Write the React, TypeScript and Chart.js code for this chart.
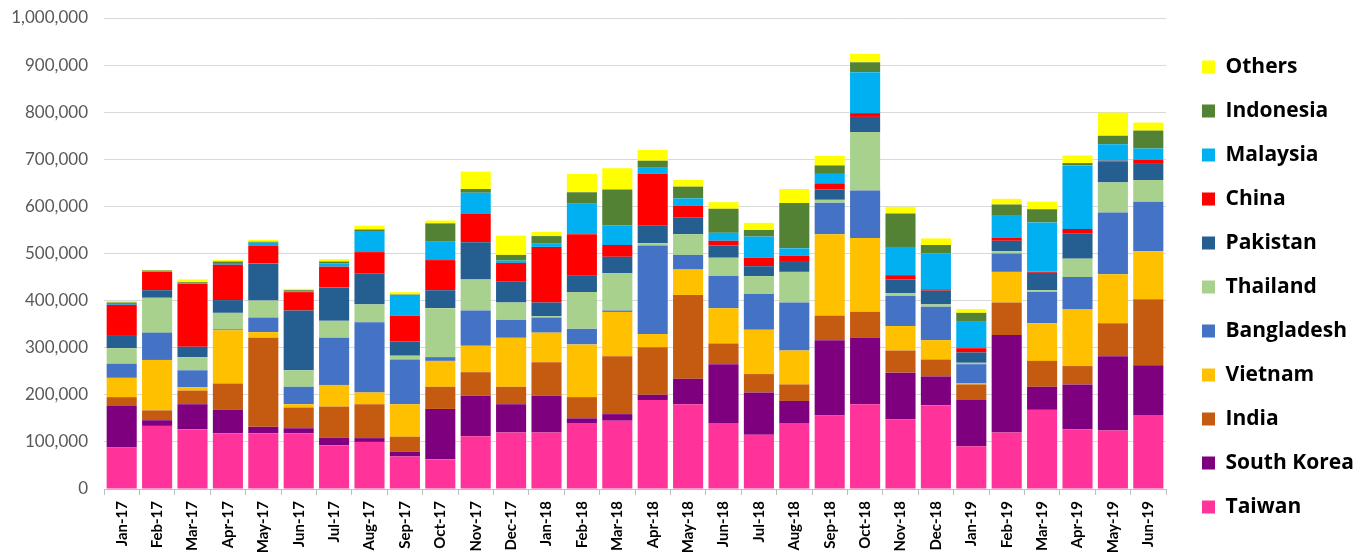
import React, { useEffect, useRef } from "react";
import { Chart, registerables } from "chart.js";

Chart.register(...registerables);

const months = [
  "Jan-17", "Feb-17", "Mar-17", "Apr-17", "May-17", "Jun-17", "Jul-17", "Aug-17", "Sep-17", "Oct-17",
  "Nov-17", "Dec-17", "Jan-18", "Feb-18", "Mar-18", "Apr-18", "May-18", "Jun-18", "Jul-18", "Aug-18",
  "Sep-18", "Oct-18", "Nov-18", "Dec-18", "Jan-19", "Feb-19", "Mar-19", "Apr-19", "May-19", "Jun-19",
];

const taiwan = [88000, 134000, 127000, 118000, 118000, 118000, 93000, 100000, 69000, 63000, 112000, 120000, 120000, 140000, 145000, 189000, 180000, 140000, 115000, 140000, 156000, 180000, 148000, 178000, 91000, 120000, 168000, 127000, 124000, 157000];
const southKorea = [88000, 12000, 53000, 50000, 14000, 11000, 16000, 8000, 10000, 107000, 86000, 60000, 78000, 10000, 14000, 11000, 54000, 125000, 90000, 47000, 160000, 141000, 99000, 61000, 98000, 207000, 49000, 95000, 158000, 106000];
const india = [19000, 21000, 29000, 56000, 189000, 44000, 66000, 72000, 32000, 47000, 50000, 37000, 71000, 45000, 123000, 101000, 178000, 44000, 39000, 35000, 52000, 55000, 47000, 36000, 33000, 69000, 55000, 39000, 70000, 140000];
const vietnam = [41000, 107000, 7000, 113000, 12000, 7000, 46000, 25000, 69000, 55000, 56000, 104000, 63000, 112000, 94000, 28000, 54000, 75000, 94000, 72000, 173000, 157000, 52000, 41000, 2000, 65000, 80000, 120000, 104000, 102000];
const bangladesh = [30000, 58000, 36000, 2000, 31000, 37000, 100000, 149000, 95000, 8000, 75000, 38000, 32000, 33000, 3000, 188000, 31000, 69000, 76000, 102000, 67000, 101000, 64000, 71000, 41000, 39000, 67000, 69000, 131000, 105000];
const thailand = [33000, 74000, 28000, 35000, 36000, 35000, 36000, 38000, 8000, 104000, 66000, 37000, 3000, 78000, 79000, 5000, 44000, 38000, 38000, 65000, 6000, 124000, 6000, 5000, 3000, 5000, 3000, 39000, 64000, 46000];
const pakistan = [26000, 16000, 22000, 27000, 79000, 127000, 71000, 66000, 30000, 38000, 79000, 44000, 29000, 35000, 35000, 37000, 35000, 26000, 21000, 23000, 22000, 32000, 29000, 29000, 22000, 22000, 37000, 54000, 44000, 36000];
const china = [66000, 39000, 133000, 75000, 37000, 39000, 44000, 45000, 55000, 64000, 61000, 40000, 118000, 88000, 25000, 111000, 25000, 10000, 18000, 11000, 13000, 8000, 9000, 3000, 9000, 7000, 2000, 9000, 2000, 7000];
const malaysia = [2000, 1000, 1000, 2000, 7000, 2000, 7000, 43000, 44000, 39000, 44000, 5000, 8000, 66000, 42000, 12000, 16000, 17000, 45000, 16000, 20000, 87000, 60000, 76000, 56000, 46000, 105000, 135000, 35000, 24000];
const indonesia = [3000, 2000, 3000, 5000, 2000, 2000, 4000, 5000, 1000, 39000, 8000, 12000, 15000, 23000, 76000, 15000, 25000, 51000, 14000, 96000, 18000, 21000, 71000, 18000, 19000, 24000, 28000, 5000, 18000, 38000];
const others = [3000, 1000, 6000, 3000, 4000, 3000, 5000, 8000, 5000, 6000, 37000, 41000, 9000, 39000, 45000, 23000, 14000, 14000, 15000, 30000, 20000, 18000, 14000, 14000, 8000, 12000, 16000, 16000, 49000, 17000];

const yTicks = [0, 100000, 200000, 300000, 400000, 500000, 600000, 700000, 800000, 900000, 1000000];

// Stacking order, bottom to top
const seriesList = [
  { name: "Taiwan", values: taiwan, color: "#FF3399" },
  { name: "South Korea", values: southKorea, color: "#7F007F" },
  { name: "India", values: india, color: "#C55A11" },
  { name: "Vietnam", values: vietnam, color: "#FFC000" },
  { name: "Bangladesh", values: bangladesh, color: "#4472C4" },
  { name: "Thailand", values: thailand, color: "#A9D18E" },
  { name: "Pakistan", values: pakistan, color: "#255E91" },
  { name: "China", values: china, color: "#FF0000" },
  { name: "Malaysia", values: malaysia, color: "#00B0F0" },
  { name: "Indonesia", values: indonesia, color: "#548235" },
  { name: "Others", values: others, color: "#FFFF00" },
];

// Fixes the legend column width and nudges it into place beside the plot
const legendPlacement = {
  id: "legendPlacement",
  beforeLayout(chart: any) {
    const legend = chart.legend;
    if (legend && !legend.__patched) {
      const fit = legend.fit.bind(legend);
      legend.fit = function () {
        fit();
        this.width = 204;
      };
      legend.__patched = true;
    }
  },
  afterLayout(chart: any) {
    const legend = chart.legend;
    if (legend) {
      legend.left += 13;
      legend.right += 13;
      legend.top -= 2;
      legend.bottom -= 2;
    }
  },
};

export default function App() {
  const canvasRef = useRef<HTMLCanvasElement | null>(null);

  useEffect(() => {
    if (!canvasRef.current) return;
    const chart = new Chart(canvasRef.current, {
      type: "bar",
      data: {
        labels: months,
        datasets: seriesList.map((s) => ({
          label: s.name,
          data: s.values,
          backgroundColor: s.color,
          borderWidth: 0,
          barPercentage: 0.85,
          categoryPercentage: 1,
        })),
      },
      options: {
        animation: false,
        responsive: true,
        maintainAspectRatio: false,
        layout: { padding: { top: 18, right: 0, bottom: 0, left: 0 } },
        plugins: {
          title: { display: false },
          tooltip: { enabled: false },
          legend: {
            position: "right",
            reverse: true,
            labels: {
              boxWidth: 13,
              boxHeight: 13,
              padding: 23,
              color: "#000000",
              font: { family: "'Open Sans', Lato, sans-serif", size: 21, weight: "bold" },
            },
          },
        },
        scales: {
          x: {
            stacked: true,
            grid: {
              display: true,
              drawOnChartArea: false,
              drawTicks: true,
              tickLength: 6,
              color: "#BFBFBF",
            },
            border: { display: true, color: "#BFBFBF" },
            ticks: {
              minRotation: 90,
              maxRotation: 90,
              autoSkip: false,
              padding: 6,
              color: "#000000",
              font: { family: "Lato, 'Open Sans', sans-serif", size: 15, weight: "bold" },
            },
            afterFit(scale: any) {
              scale.height = 71;
            },
          },
          y: {
            stacked: true,
            min: 0,
            max: 1000000,
            afterBuildTicks(scale: any) {
              scale.ticks = yTicks.map((v) => ({ value: v }));
            },
            grid: { color: "#D9D9D9", drawTicks: false },
            border: { display: false },
            ticks: {
              padding: 16,
              color: "#595959",
              font: { family: "Lato, 'Open Sans', sans-serif", size: 17 },
              callback: (v: any) => Number(v).toLocaleString("en-US"),
            },
            afterFit(scale: any) {
              scale.width = 104;
              scale.paddingTop = 0;
              scale.paddingBottom = 0;
            },
          },
        },
      },
      plugins: [legendPlacement],
    });
    return () => chart.destroy();
  }, []);

  return (
    <div style={{ position: "absolute", left: 0, top: 0, width: 1370, height: 560, background: "#ffffff" }}>
      <canvas ref={canvasRef} />
    </div>
  );
}
